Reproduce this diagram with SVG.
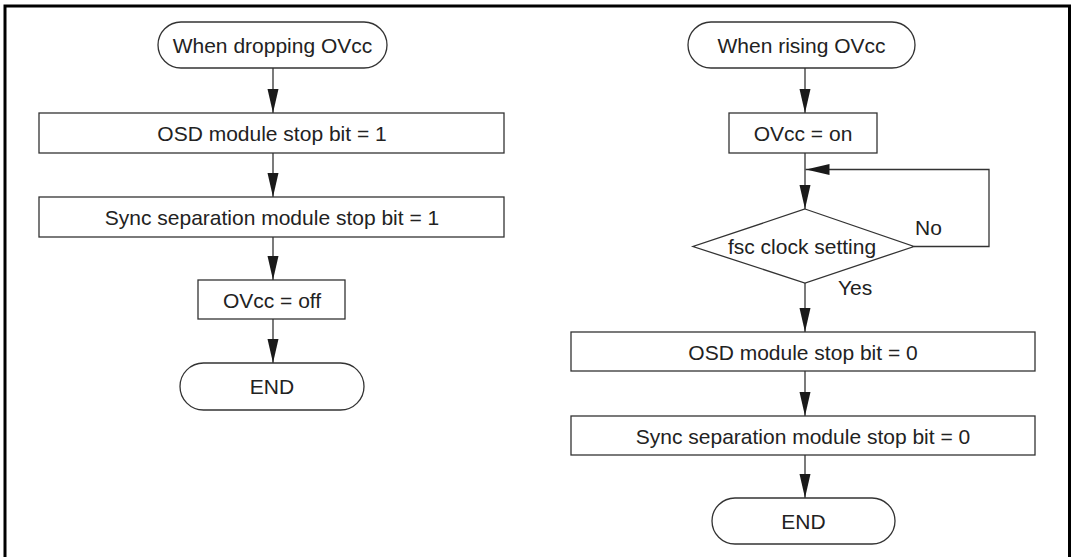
<svg xmlns="http://www.w3.org/2000/svg" width="1076" height="557" viewBox="0 0 1076 557">
  <style>
    .shape { fill: #ffffff; stroke: #333333; stroke-width: 1.3; }
    .conn { fill: none; stroke: #333333; stroke-width: 1.3; }
    .lbl { font-family: "Liberation Sans", Arial, sans-serif; font-size: 21px; fill: #222222; text-anchor: middle; }
    .lbl-start { font-family: "Liberation Sans", Arial, sans-serif; font-size: 21px; fill: #222222; text-anchor: start; }
  </style>
  <defs>
    <marker id="arrow" markerUnits="userSpaceOnUse" markerWidth="24" markerHeight="12" refX="24" refY="6" orient="auto">
      <polygon points="0,0.5 24,6 0,11.5" fill="#1a1a1a"/>
    </marker>
  </defs>
  <rect width="1076" height="557" fill="#ffffff"/>
  <path d="M5,560 V6 H1069.5 V560" fill="none" stroke="#000000" stroke-width="3"/>

  <g id="connectors">
    <line class="conn" x1="273" y1="68" x2="273" y2="113" marker-end="url(#arrow)"/>
    <line class="conn" x1="273" y1="153" x2="273" y2="197" marker-end="url(#arrow)"/>
    <line class="conn" x1="273" y1="237" x2="273" y2="280" marker-end="url(#arrow)"/>
    <line class="conn" x1="273" y1="319" x2="273" y2="363" marker-end="url(#arrow)"/>

    <line class="conn" x1="805" y1="68" x2="805" y2="113" marker-end="url(#arrow)"/>
    <line class="conn" x1="805" y1="153" x2="805" y2="209" marker-end="url(#arrow)"/>
    <path class="conn" d="M914,246.5 H989 V169.5 H805.5" marker-end="url(#arrow)"/>
    <line class="conn" x1="805" y1="283" x2="805" y2="332" marker-end="url(#arrow)"/>
    <line class="conn" x1="805" y1="371" x2="805" y2="416" marker-end="url(#arrow)"/>
    <line class="conn" x1="805" y1="455" x2="805" y2="498" marker-end="url(#arrow)"/>
    <text class="lbl-start" x="915" y="235">No</text>
    <text class="lbl-start" x="838" y="295">Yes</text>
  </g>

  <g id="start-left">
    <rect class="shape" x="158" y="22" width="229" height="46" rx="23" ry="23"/>
    <text class="lbl" x="272.5" y="53">When dropping OVcc</text>
  </g>
  <g id="osd-stop-1">
    <rect class="shape" x="39" y="113" width="465" height="40"/>
    <text class="lbl" x="272" y="141">OSD module stop bit = 1</text>
  </g>
  <g id="sync-stop-1">
    <rect class="shape" x="39" y="197" width="465" height="40"/>
    <text class="lbl" x="272" y="225">Sync separation module stop bit = 1</text>
  </g>
  <g id="ovcc-off">
    <rect class="shape" x="198" y="280" width="147" height="39"/>
    <text class="lbl" x="272" y="307.5">OVcc = off</text>
  </g>
  <g id="end-left">
    <rect class="shape" x="180" y="363" width="184" height="47" rx="23.5" ry="23.5"/>
    <text class="lbl" x="272" y="394">END</text>
  </g>

  <g id="start-right">
    <rect class="shape" x="688" y="22" width="227" height="46" rx="23" ry="23"/>
    <text class="lbl" x="801.5" y="53">When rising OVcc</text>
  </g>
  <g id="ovcc-on">
    <rect class="shape" x="729" y="113" width="148" height="40"/>
    <text class="lbl" x="803" y="141">OVcc = on</text>
  </g>
  <g id="fsc-decision">
    <polygon class="shape" points="805,209 914,246.5 805,283 693,246.5"/>
    <text class="lbl" x="802" y="254">fsc clock setting</text>
  </g>
  <g id="osd-stop-0">
    <rect class="shape" x="571" y="332" width="464" height="39"/>
    <text class="lbl" x="803" y="359.5">OSD module stop bit = 0</text>
  </g>
  <g id="sync-stop-0">
    <rect class="shape" x="571" y="416" width="464" height="39"/>
    <text class="lbl" x="803" y="443.5">Sync separation module stop bit = 0</text>
  </g>
  <g id="end-right">
    <rect class="shape" x="712" y="498" width="183" height="46" rx="23" ry="23"/>
    <text class="lbl" x="803.5" y="529">END</text>
  </g>
</svg>
